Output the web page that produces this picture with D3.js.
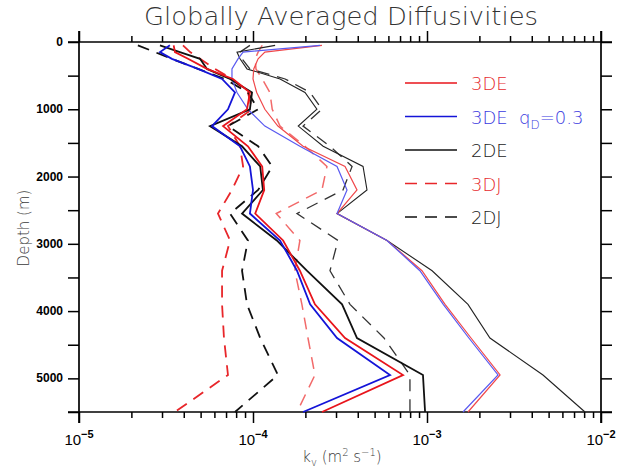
<!DOCTYPE html>
<html>
<head>
<meta charset="utf-8">
<script src="https://cdn.jsdelivr.net/npm/d3@7"></script>
<style>
  body { margin: 0; background: #fff; }
  svg text { font-family: "Liberation Sans", Arial, sans-serif; }
  svg text.thin { font-family: "DejaVu Sans", sans-serif; font-weight: 200; }
</style>
</head>
<body>
<div id="chart"></div>
<script>
// depth levels of the profiles (m)
const depths = [50, 150, 250, 400, 550, 750, 1000, 1250, 1550, 1850, 2200, 2550, 2950, 3400, 3900, 4400, 4950, 5500];

// left (low) group of profiles, k_v in m2/s
const kv3DE_lo  = [3.5e-5, 3.56e-5, 4.23e-5, 5.44e-5, 7.67e-5, 9.6e-5, 9.24e-5, 6.73e-5, 9.35e-5, 1.13e-4, 1.16e-4, 1.03e-4, 1.49e-4, 1.86e-4, 2.27e-4, 3.38e-4, 7.28e-4, 2.49e-4];
const kv3DEq_lo = [3.33e-5, 2.92e-5, 3.42e-5, 4.83e-5, 6.64e-5, 7.88e-5, 7.18e-5, 5.81e-5, 8.42e-5, 9.6e-5, 1.0e-4, 9.6e-5, 1.43e-4, 1.79e-4, 2.13e-4, 3.04e-4, 6.13e-4, 1.94e-4];
const kv2DE_lo  = [2.92e-5, 3.8e-5, 4.96e-5, 5.44e-5, 7.38e-5, 9.87e-5, 9.6e-5, 5.66e-5, 8.65e-5, 1.1e-4, 1.14e-4, 8.65e-5, 1.37e-4, 2.04e-4, 3.25e-4, 3.96e-4, 9.48e-4, 9.75e-4];
const kv3DJ_lo  = [3.96e-5, 4.35e-5, 4.96e-5, 6.05e-5, 7.57e-5, 9.35e-5, 9.87e-5, 7.18e-5, 8.42e-5, 8.77e-5, 7.57e-5, 6.29e-5, 7.38e-5, 6.64e-5, 6.64e-5, 6.81e-5, 7.18e-5, 3.56e-5];
const kv2DJ_lo  = [2.18e-5, 2.73e-5, 3.42e-5, 4.83e-5, 6.9e-5, 9.35e-5, 1.07e-4, 7.18e-5, 1.07e-4, 1.29e-4, 1.07e-4, 7.38e-5, 9.35e-5, 8.65e-5, 9.24e-5, 1.1e-4, 1.39e-4, 7.88e-5];

// right (high) group of profiles
const kv3DE_hi  = [2.49e-4, 1.17e-4, 1.07e-4, 1.01e-4, 1.0e-4, 1.05e-4, 1.17e-4, 1.39e-4, 1.94e-4, 3.38e-4, 3.96e-4, 3.04e-4, 5.89e-4, 9.36e-4, 1.27e-3, 1.79e-3, 2.63e-3, 1.72e-3];
const kv3DEq_hi = [2.43e-4, 8.77e-5, 8.2e-5, 7.57e-5, 7.57e-5, 8.09e-5, 9.35e-5, 1.17e-4, 1.86e-4, 3.04e-4, 3.47e-4, 3.04e-4, 5.89e-4, 9.1e-4, 1.24e-3, 1.74e-3, 2.56e-3, 1.61e-3];
const kv2DE_hi  = [1.34e-4, 8.09e-5, 8.42e-5, 9.24e-5, 1.43e-4, 1.99e-4, 2.33e-4, 1.82e-4, 2.53e-4, 4.29e-4, 4.52e-4, 3.04e-4, 5.89e-4, 1.07e-3, 1.72e-3, 2.3e-3, 4.64e-3, 8.09e-3];
const kv3DJ_hi  = [1.13e-4, 1.07e-4, 1.03e-4, 1.04e-4, 1.13e-4, 1.25e-4, 1.29e-4, 1.43e-4, 1.99e-4, 2.66e-4, 2.49e-4, 1.36e-4, 1.86e-4, 1.74e-4, 1.91e-4, 2.07e-4, 2.27e-4, 1.79e-4];
const kv2DJ_hi  = [9.6e-5, 8.42e-5, 8.65e-5, 9.6e-5, 1.53e-4, 2.13e-4, 2.49e-4, 1.94e-4, 2.77e-4, 3.71e-4, 3.29e-4, 1.79e-4, 3.08e-4, 2.77e-4, 3.61e-4, 5.66e-4, 7.98e-4, 7.98e-4];

// axes
const xDecades = [1e-5, 1e-4, 1e-3, 1e-2];
const xDecadeExp = ["\u22125", "\u22124", "\u22123", "\u22122"];
const yTicks = [0, 500, 1000, 1500, 2000, 2500, 3000, 3500, 4000, 4500, 5000, 5500];
const yLabels = [0, 1000, 2000, 3000, 4000, 5000];

// legend
const legendNames = ["3DE", "3DE", "2DE", "3DJ", "2DJ"];

const W = 621, H = 468;
const margin = { top: 42, right: 20, bottom: 56, left: 79 };
const width = 522, height = 370;

const svg = d3.select("#chart").append("svg")
  .attr("width", W).attr("height", H);

const g = svg.append("g")
  .attr("transform", `translate(${margin.left},${margin.top})`);

const x = d3.scaleLog().domain([1e-5, 1e-2]).range([0, width]);
const y = d3.scaleLinear().domain([0, 5500]).range([0, height]);

// minor ticks between the decades
const xMinor = [];
xDecades.slice(0, 3).forEach(dec => {
  for (let k = 2; k <= 9; k++) xMinor.push(k * dec);
});

const noDomain = sel => sel.select(".domain").remove();

g.append("g").attr("transform", `translate(0,${height})`)
  .call(d3.axisBottom(x).tickValues(xMinor).tickSize(6).tickFormat("")).call(noDomain);
g.append("g").attr("transform", `translate(0,${height})`)
  .call(d3.axisBottom(x).tickValues(xDecades).tickSize(11).tickFormat("")).call(noDomain);
g.append("g")
  .call(d3.axisTop(x).tickValues(xMinor).tickSize(6).tickFormat("")).call(noDomain);
g.append("g")
  .call(d3.axisTop(x).tickValues(xDecades).tickSize(11).tickFormat("")).call(noDomain);
g.append("g")
  .call(d3.axisLeft(y).tickValues(yTicks).tickSize(11).tickFormat("")).call(noDomain);
g.append("g").attr("transform", `translate(${width},0)`)
  .call(d3.axisRight(y).tickValues(yTicks).tickSize(11).tickFormat("")).call(noDomain);

g.selectAll(".tick line").attr("stroke", "#000").attr("stroke-width", 1.5);

// frame, lines run past the corners like the original
const over = 11;
g.append("g").attr("stroke", "#000").attr("stroke-width", 1.7)
  .selectAll("line")
  .data([
    [-over, 0, width + over, 0],
    [-over, height, width + over, height],
    [0, -over, 0, height + over],
    [width, -over, width, height + over]
  ])
  .join("line")
  .attr("x1", d => d[0]).attr("y1", d => d[1])
  .attr("x2", d => d[2]).attr("y2", d => d[3]);

// y tick labels
g.selectAll(".ylab").data(yLabels).join("text")
  .attr("class", "ylab")
  .attr("x", -16).attr("y", d => y(d) + 4)
  .attr("text-anchor", "end")
  .attr("font-size", 12).attr("font-weight", "bold")
  .text(d => d);

// x tick labels: 10^n
xDecades.forEach((d, i) => {
  const t = g.append("text")
    .attr("x", x(d)).attr("y", height + 33)
    .attr("text-anchor", "middle")
    .attr("font-size", 15);
  t.append("tspan").text("10");
  t.append("tspan").attr("dy", -7).attr("font-size", 11).attr("font-weight", "bold").text(xDecadeExp[i]);
});

// profiles
const series = [
  { v: kv3DJ_lo,  color: "#e8262a", w: 1.8, dash: "12,8" },
  { v: kv2DJ_lo,  color: "#111",    w: 1.8, dash: "12,8" },
  { v: kv3DJ_hi,  color: "#f26a6a", w: 1.5, dash: "12,8" },
  { v: kv2DJ_hi,  color: "#333",    w: 1.3, dash: "12,8" },
  { v: kv2DE_hi,  color: "#222",    w: 1.1, dash: null },
  { v: kv3DE_hi,  color: "#f0484b", w: 1.2, dash: null },
  { v: kv3DEq_hi, color: "#5a5af0", w: 1.2, dash: null },
  { v: kv2DE_lo,  color: "#111",    w: 1.8, dash: null },
  { v: kv3DE_lo,  color: "#e8141b", w: 1.8, dash: null },
  { v: kv3DEq_lo, color: "#1414d8", w: 1.8, dash: null }
];

const line = d3.line().x(d => x(d[0])).y(d => y(d[1]));

g.selectAll(".profile").data(series).join("path")
  .attr("class", "profile")
  .attr("fill", "none")
  .attr("stroke", d => d.color)
  .attr("stroke-width", d => d.w)
  .attr("stroke-dasharray", d => d.dash)
  .attr("d", d => line(d.v.map((val, i) => [val, depths[i]])));

// legend
const legendStyle = [
  { color: "#e8141b", text: "#e62a2e", dash: null },
  { color: "#1414d8", text: "#3a3ae0", dash: null },
  { color: "#111",    text: "#1a1a1a", dash: null },
  { color: "#e8262a", text: "#e62a2e", dash: "12,8" },
  { color: "#111",    text: "#1a1a1a", dash: "12,8" }
];
const legend = g.append("g").attr("transform", "translate(326,41)");
legendNames.forEach((name, i) => {
  const row = legend.append("g").attr("transform", `translate(0,${i * 33.5})`);
  row.append("line")
    .attr("x1", 0).attr("x2", 52)
    .attr("stroke", legendStyle[i].color).attr("stroke-width", 1.5)
    .attr("stroke-dasharray", legendStyle[i].dash);
  row.append("text").attr("class", "thin")
    .attr("x", 66).attr("y", 7)
    .attr("font-size", 18).attr("fill", legendStyle[i].text)
    .text(name);
});
const qd = legend.append("text").attr("class", "thin")
  .attr("x", 114).attr("y", 33.5 + 7)
  .attr("font-size", 18).attr("fill", "#3a3ae0");
qd.append("tspan").text("q");
qd.append("tspan").attr("dy", 5).attr("font-size", 12).text("D");
qd.append("tspan").attr("dy", -5).text("=0.3");

// title and axis titles
svg.append("text").attr("class", "thin")
  .attr("x", 341).attr("y", 25)
  .attr("text-anchor", "middle")
  .attr("font-size", 25).attr("fill", "#333")
  .attr("textLength", 394).attr("lengthAdjust", "spacingAndGlyphs")
  .text("Globally Averaged Diffusivities");

svg.append("text").attr("class", "thin")
  .attr("transform", "translate(29,228) rotate(-90)")
  .attr("text-anchor", "middle")
  .attr("font-size", 15).attr("fill", "#3a3a3a")
  .text("Depth (m)");

const xt = svg.append("text").attr("class", "thin")
  .attr("x", 342).attr("y", 462)
  .attr("text-anchor", "middle")
  .attr("font-size", 15).attr("fill", "#3a3a3a");
xt.append("tspan").text("k");
xt.append("tspan").attr("dy", 4).attr("font-size", 10).text("v");
xt.append("tspan").attr("dy", -4).text(" (m");
xt.append("tspan").attr("dy", -6).attr("font-size", 10).text("2");
xt.append("tspan").attr("dy", 6).text(" s");
xt.append("tspan").attr("dy", -6).attr("font-size", 10).text("\u22121");
xt.append("tspan").attr("dy", 6).text(")");
</script>
</body>
</html>
